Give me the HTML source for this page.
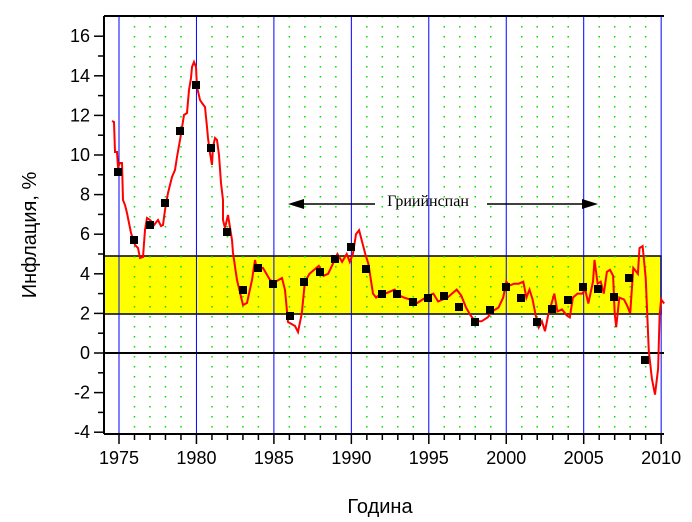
<!DOCTYPE html>
<html><head><meta charset="utf-8"><style>body{margin:0;background:#fff}svg{display:block}</style></head><body>
<svg width="692" height="522" xmlns="http://www.w3.org/2000/svg" font-family="Liberation Sans, sans-serif">
<rect width="692" height="522" fill="#fff"/>
<rect x="104" y="256" width="557" height="58" fill="#ffff00" stroke="#000" stroke-width="1.5"/>
<g id="grid"></g>
<line x1="104" y1="353" x2="664" y2="353" stroke="#000" stroke-width="2"/>
<polyline id="ln" fill="none" stroke="#ff0000" stroke-width="2"/>
<g id="sq"></g>
<line x1="104" y1="16" x2="664" y2="16" stroke="#000" stroke-width="2"/>
<line x1="104" y1="16" x2="104" y2="434" stroke="#000" stroke-width="2"/>
<line x1="104" y1="434" x2="664" y2="434" stroke="#000" stroke-width="2"/>
<g id="ticks" stroke="#000" stroke-width="1.5"></g>
<g id="lab" font-size="18" fill="#000"></g>
<text x="428" y="206" font-family="Liberation Serif, serif" font-size="16" text-anchor="middle">Гриийнспан</text>
<line x1="300" y1="204" x2="375" y2="204" stroke="#000" stroke-width="1.5"/>
<polygon points="288,204 304,199 304,209" fill="#000"/>
<line x1="487" y1="204" x2="586" y2="204" stroke="#000" stroke-width="1.5"/>
<polygon points="598,204 582,199 582,209" fill="#000"/>
<text transform="translate(36,235) rotate(-90)" font-size="20" text-anchor="middle">Инфлация, %</text>
<text x="380" y="513" font-size="20" text-anchor="middle">Година</text>
</svg>
<script>
const X=y=>119+(y-1975)*15.49, Y=v=>353-v*19.8, ns="http://www.w3.org/2000/svg";
function el(p,t,a,txt){const e=document.createElementNS(ns,t);for(const k in a)e.setAttribute(k,a[k]);if(txt)e.textContent=txt;document.getElementById(p).appendChild(e);}
for(let y=1975;y<=2010;y++){const x=X(y);
 if(y%5==0) el("grid","line",{x1:x,y1:16,x2:x,y2:434,stroke:"#0000ff","stroke-width":1});
 else el("grid","line",{x1:x,y1:16,x2:x,y2:434,stroke:"#00dd00","stroke-width":1.5,"stroke-dasharray":"1.5,8.5"});
 el("ticks","line",{x1:x,y1:434,x2:x,y2:y%5==0?444:440});
 if(y%5==0) el("lab","text",{x:x,y:464,"text-anchor":"middle"},String(y));}
for(let v=-4;v<=16;v++){const y=Y(v);el("ticks","line",{x1:v%2==0?94:98,y1:y,x2:104,y2:y});
 if(v%2==0) el("lab","text",{x:90,y:y+6,"text-anchor":"end"},v<0?"-"+(-v):String(v));}
const px=[[112,121],[114,122],[115,152],[117,152],[118,167],[120,163],[122,163],[123,200],[125,205],[127,213],[131,233],[135,245],[138,248],[140,258],[143,257],[145,230],[147,218],[150,220],[152,222],[154,225],[158,220],[161,226],[163,225],[165,210],[168,193],[172,177],[175,170],[177,157],[180,140],[184,115],[187,113],[189,90],[191,78],[192,67],[194,62],[196,67],[197,87],[200,100],[202,103],[205,107],[207,127],[208,138],[210,153],[212,165],[213,147],[215,138],[217,140],[219,155],[221,183],[223,200],[223,220],[225,228],[228,215],[232,240],[233,253],[237,280],[243,305],[247,303],[252,280],[255,260],[257,270],[263,268],[270,280],[275,282],[282,278],[285,290],[288,322],[295,326],[298,332]];
const d=[1986.8,2.0,1987.0,3.6,1987.3,4.0,1987.6,4.2,1987.9,4.4,1988.2,3.9,1988.5,4.0,1988.8,4.5,1989.1,5.0,1989.4,4.6,1989.7,5.0,1989.9,4.6,1990.1,5.0,1990.3,6.0,1990.5,6.2,1990.7,5.6,1990.9,5.0,1991.1,4.5,1991.4,3.0,1991.6,2.8,1991.9,3.0,1992.2,3.0,1992.5,3.1,1992.8,3.2,1993.1,2.9,1993.4,2.8,1993.8,2.7,1994.2,2.5,1994.6,2.7,1995.0,2.9,1995.3,3.0,1995.6,2.6,1995.9,2.7,1996.2,2.8,1996.5,3.0,1996.8,3.2,1997.1,2.9,1997.4,2.3,1997.7,1.9,1998.0,1.6,1998.4,1.6,1998.8,1.8,1999.1,2.1,1999.5,2.3,1999.8,2.8,2000.0,3.6,2000.2,3.4,2000.5,3.5,2000.8,3.5,2001.1,3.6,2001.3,2.8,2001.5,3.2,2001.7,2.7,2001.9,1.9,2002.1,1.3,2002.3,1.6,2002.5,1.1,2002.7,1.9,2003.0,2.7,2003.1,3.0,2003.3,2.1,2003.6,2.2,2003.9,1.9,2004.1,1.8,2004.3,2.8,2004.6,3.0,2004.9,3.0,2005.1,3.2,2005.3,2.5,2005.6,3.6,2005.7,4.7,2005.9,3.5,2006.1,3.6,2006.3,3.0,2006.5,4.1,2006.7,4.2,2006.9,3.9,2007.0,2.0,2007.1,1.3,2007.3,2.8,2007.6,2.7,2007.8,2.4,2008.0,2.0,2008.2,4.3,2008.5,4.0,2008.6,5.3,2008.8,5.4,2009.0,3.8,2009.2,0.1,2009.4,-1.3,2009.6,-2.1,2009.8,-0.8,2009.9,1.9,2010.0,2.7,2010.2,2.5];
let p=px.map(a=>a[0]+","+a[1]);for(let i=0;i<d.length;i+=2)p.push(X(d[i]).toFixed(1)+","+Y(d[i+1]).toFixed(1));
document.getElementById("ln").setAttribute("points",p.join(" "));
const s=[[118,172],[134,240],[150,225],[165,203],[180,131],[196,85],[211,148],[227,232],[243,290],[258,268],[273,284],[290,316],[304,282],[320,272],[335,259],[351,247],[366,269],[382,294],[397,294],[413,302],[428,298],[444,296],[459,307],[475,322],[490,310],[506,287],[521,298],[537,322],[552,309],[568,300],[583,287],[598,289],[614,297],[629,278],[645,360]];
s.forEach(([x,y])=>el("sq","rect",{x:x-4,y:y-4,width:8,height:8,fill:"#000"}));
</script>
</body></html>
